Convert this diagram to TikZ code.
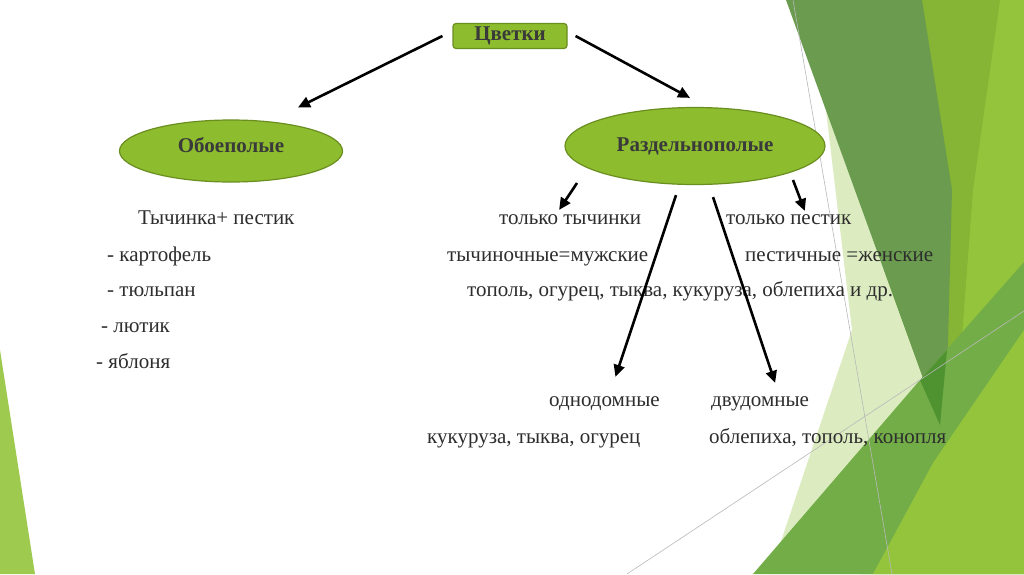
\documentclass[tikz,border=0pt]{standalone}
\usepackage{fontspec}
\setmainfont{Liberation Serif}
\usetikzlibrary{positioning,arrows.meta,shapes.geometric}
\definecolor{leaf}{RGB}{141,189,46}
\definecolor{leafedge}{RGB}{106,142,32}
\definecolor{labelgray}{RGB}{58,58,58}
\definecolor{txtgray}{RGB}{45,45,45}
\definecolor{fdark}{RGB}{106,155,78}
\definecolor{fmid}{RGB}{134,180,52}
\definecolor{flime}{RGB}{148,196,60}
\definecolor{fpale}{RGB}{220,236,192}
\definecolor{fgrass}{RGB}{115,173,72}
\definecolor{fdeep}{RGB}{79,146,48}
\definecolor{flight}{RGB}{165,204,94}
\tikzset{
  rootbox/.style={draw=leafedge,line width=1.2pt,fill=leaf,rounded corners=3pt,
            minimum width=114pt,minimum height=25pt,inner sep=0pt,
            font=\bfseries\fontsize{21}{24}\selectfont,text=labelgray},
  kind/.style={ellipse,draw=leafedge,line width=1.2pt,fill=leaf,inner sep=0pt,
            font=\bfseries\fontsize{21}{24}\selectfont,text=labelgray},
  txt/.style={anchor=base west,inner sep=0pt,
            font=\fontsize{21}{24}\selectfont,text=txtgray},
  arr/.style={-{Triangle[length=12pt,width=11pt]},line width=2.6pt,black},
  facet/.style={draw=none},
  hair/.style={draw=gray!55,line width=0.6pt},
}
\begin{document}
\begin{tikzpicture}[x=1pt,y=-1pt]
  \useasboundingbox (0,0) rectangle (1024,574);
  \fill[white] (0,0) rectangle (1024,574);
  % background facets
  \fill[facet,flime] (905,0) -- (1024,0) -- (1024,574) -- (860,574) -- cycle;
  \fill[facet,fpale] (826,110) -- (940,425) -- (860,574) -- (770,574) -- (852,330) -- cycle;
  \fill[facet,fmid] (922,0) -- (1000,0) -- (973,190) -- (958,390) -- (942,428) -- cycle;
  \fill[facet,flight] (942,428) -- (984,318) -- (978,372) -- (948,462) -- cycle;
  \fill[facet,fdark] (786,0) -- (922,0) -- (952,190) -- (947,380) -- (940,425) -- cycle;
  \fill[facet,fgrass] (753,574) -- (920,380) -- (1024,262) -- (1024,574) -- cycle;
  \fill[facet,fdeep] (920,380) -- (947,350) -- (940,425) -- cycle;
  \fill[facet,flime] (873,574) -- (933,463) -- (1024,330) -- (1024,574) -- cycle;
  \fill[facet,flime!90!white] (0,350) -- (35,574) -- (0,574) -- cycle;
  \draw[hair] (793,0) -- (892,574);
  \draw[hair] (627,574) -- (1024,311);

  % top and the two kinds
  \node[rootbox] (root) at (510,36) {Цветки};
  \node[kind,minimum width=223pt,minimum height=62pt,text depth=12pt] (bis) at (231,151) {Обоеполые};
  \node[kind,minimum width=260pt,minimum height=77pt] (uni) at (695,146) {Раздельнополые};

  % left column
  \node[txt] (bnote) at (138,224) {Тычинка+ пестик};
  \node[txt] (b1) at (107,261) {- картофель};
  \node[txt] (b2) at (107,296) {- тюльпан};
  \node[txt] (b3) at (101,332) {- лютик};
  \node[txt] (b4) at (96,368) {- яблоня};

  % right column
  \node[txt] (stam) at (499,224) {только тычинки};
  \node[txt] (pist) at (726,224) {только пестик};
  \node[txt] (male) at (447,261) {тычиночные=мужские};
  \node[txt] (fem) at (745,261) {пестичные =женские};
  \node[txt] (ulist) at (467,296) {тополь, огурец, тыква, кукуруза, облепиха и др.};
  \node[txt] (mono) at (549,406) {однодомные};
  \node[txt] (dio) at (711,406) {двудомные};
  \node[txt] (mlist) at (427,443) {кукуруза, тыква, огурец};
  \node[txt] (dlist) at (709,443) {облепиха, тополь, конопля};

  % arrows
  \draw[arr] ([xshift=-10pt]root.west) -- ([xshift=67pt,yshift=12pt]bis.north);
  \draw[arr] ([xshift=8pt]root.east) -- ([xshift=-5pt,yshift=9pt]uni.north);
  \draw[arr] ([xshift=-118pt,yshift=-37pt]uni.center) -- ([xshift=-11pt,yshift=4pt]stam.north);
  \draw[arr] ([xshift=98pt,yshift=-34pt]uni.center) -- ([xshift=16pt,yshift=3pt]pist.north);
  \draw[arr] ([xshift=-19pt,yshift=-10pt]uni.south) -- ([xshift=11pt,yshift=19pt]mono.north);
  \draw[arr] ([xshift=18pt,yshift=-12pt]uni.south) -- ([xshift=15pt,yshift=13pt]dio.north);
\end{tikzpicture}
\end{document}
